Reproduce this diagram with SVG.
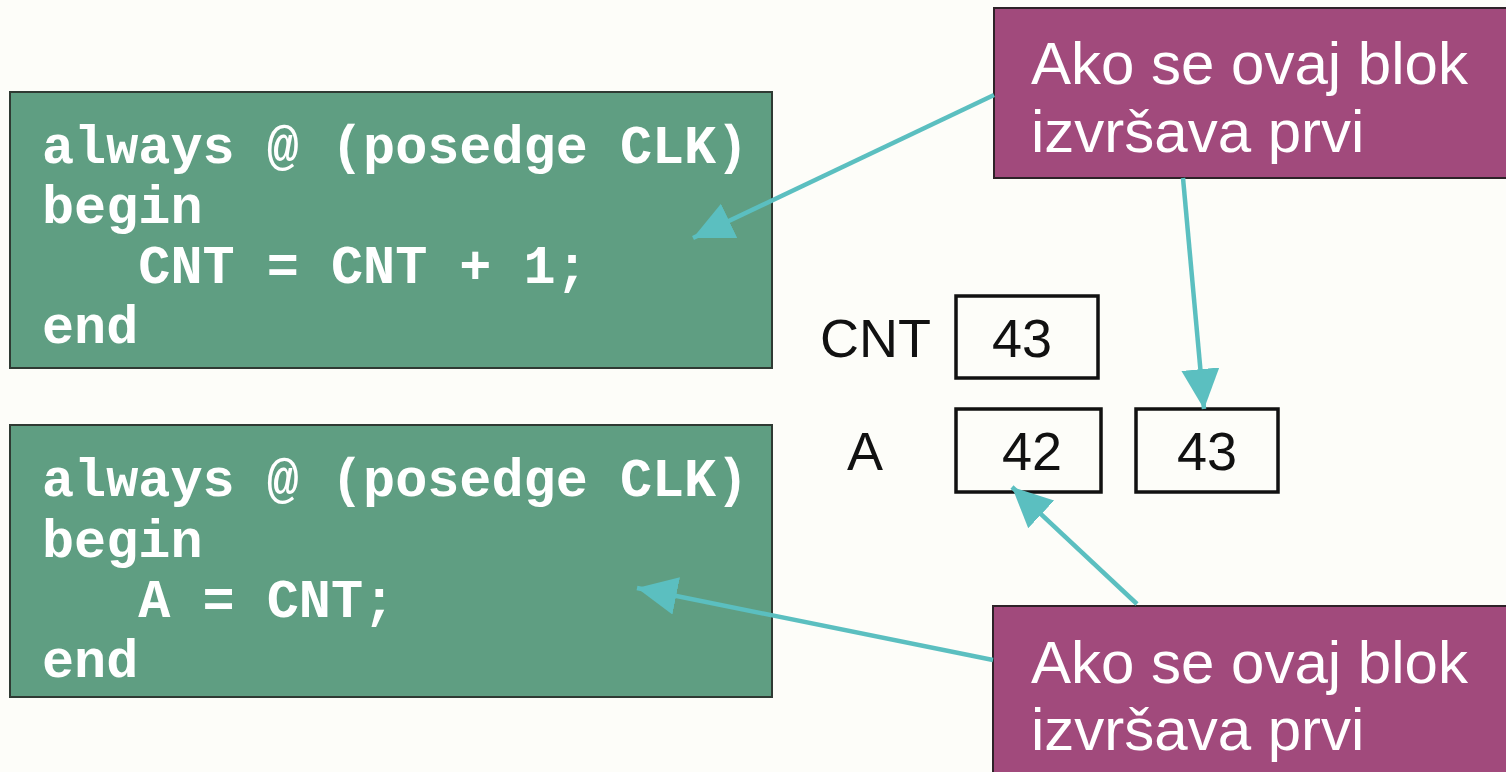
<svg xmlns="http://www.w3.org/2000/svg" width="1506" height="772" viewBox="0 0 1506 772">
<style>
.code{fill:#5f9e82;stroke:#2f3a33;stroke-width:2}
.ct{font-family:"Liberation Mono","Courier New",monospace;font-weight:bold;font-size:53.5px;fill:#ffffff}
.note{fill:#a14a7c;stroke:#2e2228;stroke-width:2}
.nt{font-family:"Liberation Sans",Arial,sans-serif;font-size:60px;fill:#ffffff}
.val{fill:none;stroke:#111;stroke-width:3.5}
.lbl{font-family:"Liberation Sans",Arial,sans-serif;font-size:54px;fill:#111}
.arr{stroke:#5bbfc0;stroke-width:4.5;fill:none;marker-end:url(#ah)}
</style>
<defs>
<marker id="ah" markerUnits="userSpaceOnUse" markerWidth="44" markerHeight="40" refX="40" refY="19" orient="auto">
<path d="M0,0 L40,19 L0,38 Z" fill="#5bbfc0"/>
</marker>
</defs>
<rect width="1506" height="772" fill="#fdfdf9"/>
<g id="code1">
<rect class="code" x="10" y="92" width="762" height="276"/>
<text class="ct" x="42" y="163">always @ (posedge CLK)</text>
<text class="ct" x="42" y="223">begin</text>
<text class="ct" x="42" y="283" xml:space="preserve">   CNT = CNT + 1;</text>
<text class="ct" x="42" y="343">end</text>
</g>
<g id="code2">
<rect class="code" x="10" y="425" width="762" height="272"/>
<text class="ct" x="42" y="496">always @ (posedge CLK)</text>
<text class="ct" x="42" y="557">begin</text>
<text class="ct" x="42" y="617" xml:space="preserve">   A = CNT;</text>
<text class="ct" x="42" y="677">end</text>
</g>
<g id="note1">
<rect class="note" x="994" y="8" width="520" height="170"/>
<text class="nt" x="1031" y="84">Ako se ovaj blok</text>
<text class="nt" x="1031" y="152">izvršava prvi</text>
</g>
<g id="note2">
<rect class="note" x="993" y="606" width="520" height="175"/>
<text class="nt" x="1031" y="683">Ako se ovaj blok</text>
<text class="nt" x="1031" y="750">izvršava prvi</text>
</g>
<g id="cnt">
<text class="lbl" x="820" y="357">CNT</text>
<rect class="val" x="956" y="296" width="142" height="82"/>
<text class="lbl" x="1022" y="357" text-anchor="middle">43</text>
</g>
<g id="a">
<text class="lbl" x="847" y="470">A</text>
<rect class="val" x="956" y="409" width="145" height="83"/>
<text class="lbl" x="1032" y="470" text-anchor="middle">42</text>
</g>
<g id="a2">
<rect class="val" x="1136" y="409" width="142" height="83"/>
<text class="lbl" x="1207" y="470" text-anchor="middle">43</text>
</g>
<g id="connectors">
<line class="arr" x1="994" y1="95" x2="693" y2="238"/>
<line class="arr" x1="1183" y1="178" x2="1204" y2="409"/>
<line class="arr" x1="1137" y1="604" x2="1012" y2="487"/>
<line class="arr" x1="993" y1="660" x2="637" y2="588"/>
</g>
</svg>
